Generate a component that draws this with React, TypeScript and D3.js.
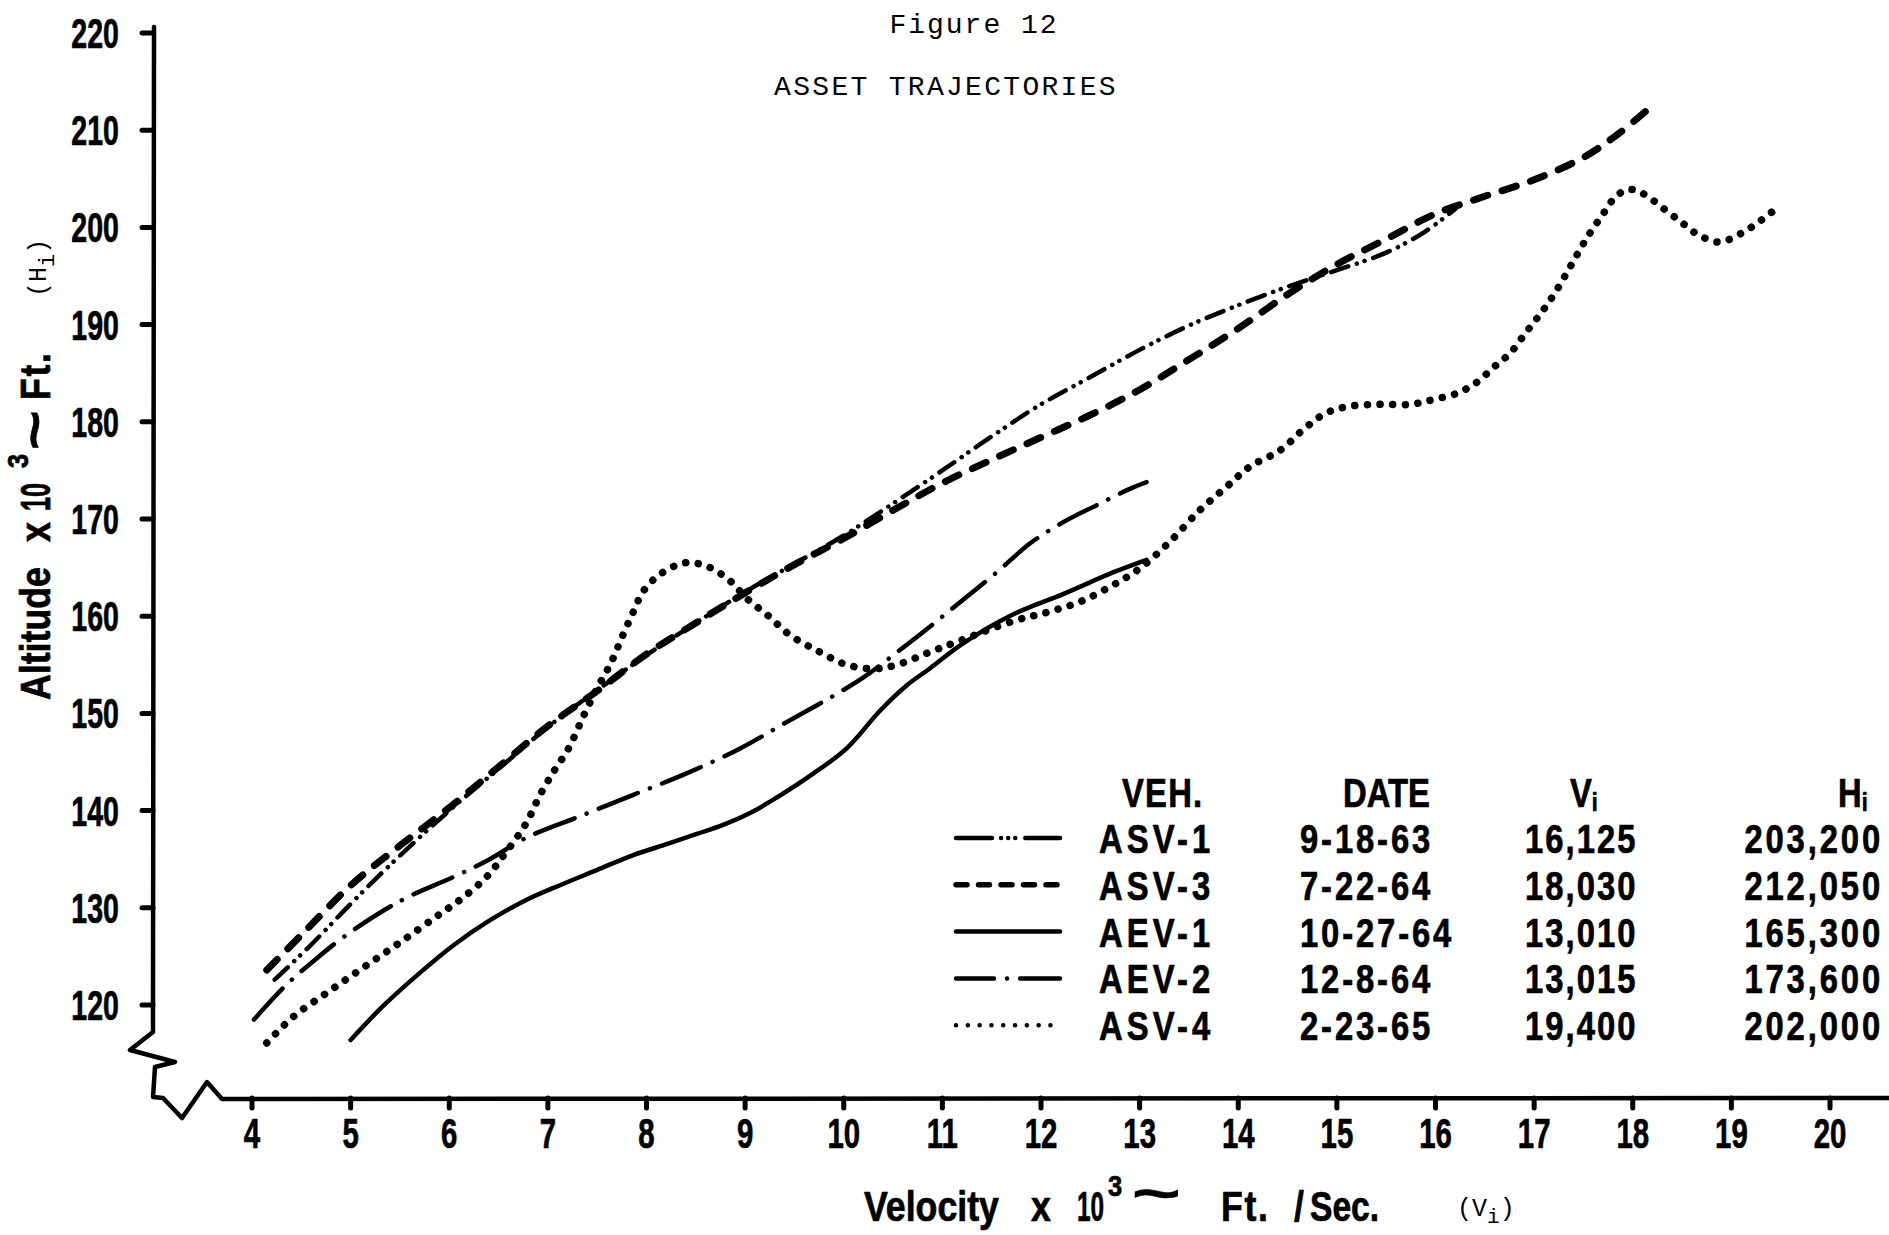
import React, { useEffect, useRef } from "react";
import * as d3 from "d3";

// axis ticks (velocity x 10^3 ft/sec, altitude x 10^3 ft)
const velocityTicks = [4, 5, 6, 7, 8, 9, 10, 11, 12, 13, 14, 15, 16, 17, 18, 19, 20];
const altitudeTicks = [120, 130, 140, 150, 160, 170, 180, 190, 200, 210, 220];

// trajectories, [velocity, altitude]
const asv1: [number, number][] = [
    [4.23, 122.6], [4.6, 126.2], [5.0, 130.4], [5.4, 134.4], [6.0, 140.0], [6.5, 144.3],
    [7.0, 148.6], [7.5, 152.4], [8.0, 156.0], [8.5, 159.3], [9.0, 162.5], [9.5, 165.4],
    [10.0, 168.3], [10.5, 171.6], [11.0, 175.0], [11.5, 178.5], [12.0, 181.8], [12.5, 184.6],
    [13.0, 187.4], [13.5, 189.9], [14.0, 192.0], [14.5, 193.9], [15.0, 195.6], [15.5, 197.4],
    [15.9, 199.6], [16.2, 201.9],
];
const asv3: [number, number][] = [
    [4.15, 123.6], [4.5, 127.2], [5.0, 132.3], [5.5, 136.4], [6.0, 140.3], [6.5, 144.5],
    [7.0, 148.7], [7.5, 152.3], [8.0, 156.1], [8.5, 159.3], [9.0, 162.4], [9.5, 165.3],
    [10.0, 168.0], [10.5, 170.9], [11.0, 173.7], [11.5, 176.1], [12.0, 178.4], [12.5, 180.7],
    [13.0, 183.3], [13.5, 186.4], [14.0, 189.6], [14.5, 193.1], [15.0, 196.2], [15.5, 198.8],
    [16.0, 201.4], [16.5, 203.2], [17.0, 204.9], [17.5, 207.2], [17.85, 209.6], [18.15, 212.1],
];
const aev1: [number, number][] = [
    [5.0, 116.4], [5.33, 119.9], [5.69, 123.2], [6.05, 126.2], [6.41, 128.7], [6.78, 130.8],
    [7.14, 132.4], [7.5, 133.9], [7.86, 135.4], [8.22, 136.6], [8.51, 137.6], [8.77, 138.5],
    [9.06, 139.8], [9.33, 141.4], [9.69, 143.8], [10.03, 146.4], [10.37, 150.3], [10.64, 152.9],
    [10.87, 154.6], [11.21, 157.2], [11.72, 160.2], [12.23, 162.3], [12.73, 164.5], [13.07, 165.8],
];
const aev2: [number, number][] = [
    [4.02, 118.5], [4.35, 122.1], [4.68, 125.0], [4.93, 127.0], [5.33, 129.7], [5.62, 131.3],
    [6.05, 133.2], [6.41, 135.0], [6.78, 137.2], [7.32, 139.4], [7.86, 141.6], [8.4, 143.8],
    [8.95, 146.4], [9.42, 149.1], [9.86, 151.6], [10.2, 153.7], [10.54, 156.3], [10.87, 158.9],
    [11.21, 161.7], [11.55, 164.5], [11.89, 167.5], [12.23, 169.7], [12.56, 171.4], [12.9, 173.1],
    [13.07, 173.8],
];
const asv4: [number, number][] = [
    [4.15, 116.1], [4.42, 118.8], [4.78, 121.4], [5.15, 124.0], [5.51, 126.5], [5.87, 129.1],
    [6.12, 130.9], [6.38, 133.2], [6.56, 135.5], [6.78, 138.7], [6.92, 141.6], [7.07, 144.2],
    [7.21, 146.4], [7.36, 149.7], [7.5, 152.6], [7.64, 155.2], [7.75, 157.8], [7.86, 160.3],
    [7.97, 162.6], [8.15, 164.4], [8.4, 165.5], [8.62, 165.1], [8.84, 163.7], [9.02, 161.8],
    [9.24, 160.0], [9.45, 158.1], [9.76, 156.3], [10.03, 155.0], [10.3, 154.6], [10.54, 155.0],
    [10.87, 156.3], [11.21, 157.6], [11.72, 159.5], [12.06, 160.4], [12.4, 161.5], [12.73, 163.2],
    [13.0, 164.9], [13.3, 167.6], [13.61, 170.9], [13.88, 173.3], [14.12, 175.4], [14.43, 177.1],
    [14.66, 179.2], [14.89, 180.9], [15.13, 181.6], [15.44, 181.8], [15.75, 181.8], [15.98, 182.3],
    [16.21, 182.9], [16.41, 184.0], [16.6, 185.7], [16.76, 187.1], [16.91, 189.1], [17.07, 191.2],
    [17.22, 193.4], [17.38, 196.2], [17.54, 199.0], [17.7, 201.4], [17.83, 203.2], [17.96, 203.9],
    [18.1, 203.5], [18.33, 201.8], [18.51, 200.4], [18.67, 199.2], [18.88, 198.5], [19.12, 199.5],
    [19.31, 200.8], [19.5, 202.3],
];

// legend table
const vehicles = ["ASV-1", "ASV-3", "AEV-1", "AEV-2", "ASV-4"];
const launchDates = ["9-18-63", "7-22-64", "10-27-64", "12-8-64", "2-23-65"];
const viValues = ["16,125", "18,030", "13,010", "13,015", "19,400"];
const hiValues = ["203,200", "212,050", "165,300", "173,600", "202,000"];

const series: { [k: string]: [number, number][] } = {
    "ASV-1": asv1, "ASV-3": asv3, "AEV-1": aev1, "AEV-2": aev2, "ASV-4": asv4,
};

// line looks: dash pattern on the plot, dash pattern on the legend sample, pen width
const lineStyles: { [k: string]: { dash: string | null; key: string | null; width: number } } = {
    "ASV-1": { dash: "18 9 0.1 8 0.1 9", key: "36 9 0.1 7 0.1 7 0.1 10 44", width: 4.5 },
    "ASV-3": { dash: "15 15", key: "11 11.5", width: 7 },
    "AEV-1": { dash: null, key: null, width: 4.5 },
    "AEV-2": { dash: "42 13 0.1 13", key: "38 13 0.1 13 44", width: 4.5 },
    "ASV-4": { dash: "0.1 12.5", key: "0.1 11.7", width: 7.5 },
};

const W = 1889;
const H = 1235;
const AXIS_X = 153;
const AXIS_Y = 1098;
const BOLD = "'Liberation Sans', Arial, sans-serif";
const MONO = "'Liberation Mono', 'Courier New', monospace";

const App: React.FC = () => {
    const svgRef = useRef<SVGSVGElement | null>(null);

    useEffect(() => {
        if (!svgRef.current) return;
        const svg = d3.select(svgRef.current);
        svg.selectAll("*").remove();
        svg.append("rect").attr("width", W).attr("height", H).attr("fill", "#fff");

        const x = d3.scaleLinear().domain([4, 20]).range([252, 1830]);
        const y = d3.scaleLinear().domain([120, 220]).range([1005, 33]);

        // condensed bold lettering, like the stencil on the plate
        const letter = (g: any, tx: number, ty: number, text: string, size: number, sx: number,
            opts: { anchor?: string; ls?: number; rot?: boolean; font?: string; weight?: string } = {}) => {
            const mono = opts.font === MONO;
            const t = g.append("text")
                .attr("transform", `translate(${tx},${ty})${opts.rot ? " rotate(-90)" : ""} scale(${sx},1)`)
                .attr("font-family", opts.font || BOLD)
                .attr("font-weight", opts.weight || "bold")
                .attr("font-size", size)
                .attr("text-anchor", opts.anchor || "start")
                .attr("fill", "#000");
            if (!mono) t.attr("stroke", "#000").attr("stroke-width", 0.7);
            if (opts.ls) t.attr("letter-spacing", opts.ls);
            t.text(text);
            return t;
        };

        // title
        letter(svg, 974, 33, "Figure 12", 28, 1, { anchor: "middle", font: MONO, weight: "normal", ls: 2 });
        letter(svg, 946, 95, "ASSET TRAJECTORIES", 28, 1, { anchor: "middle", font: MONO, weight: "normal", ls: 2.3 });

        // axes with the broken corner
        const brk = [[0, -66], [-23, -48], [22, -36], [2, -31], [0, -1], [10, 0], [29, 20], [54, -16], [69, 1]];
        const axisPath = d3.path();
        axisPath.moveTo(AXIS_X + 1, 27);
        axisPath.lineTo(AXIS_X, AXIS_Y - 66);
        brk.forEach(([dx, dy]) => axisPath.lineTo(AXIS_X + dx, AXIS_Y + dy));
        axisPath.lineTo(W, AXIS_Y);
        svg.append("path")
            .attr("d", axisPath.toString())
            .attr("fill", "none")
            .attr("stroke", "#000")
            .attr("stroke-width", 4.5)
            .attr("stroke-linejoin", "round")
            .attr("stroke-linecap", "round");

        const yAxis = svg.append("g");
        yAxis.selectAll("line")
            .data(altitudeTicks)
            .join("line")
            .attr("x1", AXIS_X - 11).attr("x2", AXIS_X)
            .attr("y1", (d) => y(d)).attr("y2", (d) => y(d))
            .attr("stroke", "#000").attr("stroke-width", 5).attr("stroke-linecap", "round");
        altitudeTicks.forEach((d) => letter(yAxis, 119, y(d) + 15, String(d), 42, 0.68, { anchor: "end" }));

        const xAxis = svg.append("g");
        xAxis.selectAll("line")
            .data(velocityTicks)
            .join("line")
            .attr("x1", (d) => x(d)).attr("x2", (d) => x(d))
            .attr("y1", AXIS_Y).attr("y2", AXIS_Y + 10)
            .attr("stroke", "#000").attr("stroke-width", 5).attr("stroke-linecap", "round");
        velocityTicks.forEach((d) => letter(xAxis, x(d), 1148, String(d), 42, 0.7, { anchor: "middle" }));

        // axis titles
        const yt = svg.append("g");
        letter(yt, 50, 700, "Altitude", 42, 0.85, { rot: true });
        letter(yt, 50, 542, "x", 42, 0.85, { rot: true });
        letter(yt, 50, 511, "10", 42, 0.6, { rot: true });
        letter(yt, 28, 468, "3", 30, 0.85, { rot: true });
        letter(yt, 52, 450, "~", 52, 1.3, { rot: true });
        letter(yt, 50, 400, "Ft.", 42, 0.85, { rot: true, ls: 2 });
        const hi = letter(yt, 46, 297, "(H", 25, 1, { rot: true, font: MONO, weight: "normal" });
        hi.append("tspan").attr("dy", 8).attr("font-size", 22).text("i");
        hi.append("tspan").attr("dy", -8).text(")");

        const xt = svg.append("g");
        letter(xt, 864, 1221, "Velocity", 42, 0.85);
        letter(xt, 1031, 1221, "x", 42, 0.85);
        letter(xt, 1077, 1221, "10", 42, 0.58);
        letter(xt, 1108, 1196, "3", 30, 0.85);
        letter(xt, 1132, 1211, "~", 52, 1.6);
        letter(xt, 1221, 1221, "Ft.", 42, 0.85, { ls: 2 });
        letter(xt, 1294, 1221, "/", 42, 0.85);
        letter(xt, 1310, 1221, "Sec.", 42, 0.8);
        const vi = letter(xt, 1457, 1216, "(V", 25, 1, { font: MONO, weight: "normal" });
        vi.append("tspan").attr("dy", 7).attr("font-size", 21).text("i");
        vi.append("tspan").attr("dy", -7).text(")");

        // trajectories
        const line = d3.line<[number, number]>()
            .x((d) => x(d[0]))
            .y((d) => y(d[1]))
            .curve(d3.curveCatmullRom.alpha(0.5));

        const plot = svg.append("g");
        vehicles.forEach((v) => {
            const st = lineStyles[v];
            const p = plot.append("path")
                .datum(series[v])
                .attr("fill", "none")
                .attr("stroke", "#000")
                .attr("stroke-width", st.width)
                .attr("stroke-linecap", "round")
                .attr("stroke-linejoin", "round")
                .attr("d", line);
            if (st.dash) p.attr("stroke-dasharray", st.dash);
        });

        // legend table
        const lg = svg.append("g");
        const rowY = (i: number) => 838 + i * 46.8;
        letter(lg, 1122, 807, "VEH.", 40, 0.82, { ls: 1.5 });
        letter(lg, 1343, 807, "DATE", 40, 0.82);
        const vh = letter(lg, 1570, 807, "V", 40, 0.82);
        vh.append("tspan").attr("dy", 4).attr("font-size", 26).text("i");
        const hh = letter(lg, 1838, 807, "H", 40, 0.82);
        hh.append("tspan").attr("dy", 4).attr("font-size", 26).text("i");

        vehicles.forEach((v, i) => {
            const st = lineStyles[v];
            const ly = rowY(i);
            const k = lg.append("line")
                .attr("x1", 956).attr("x2", 1060)
                .attr("y1", ly).attr("y2", ly)
                .attr("stroke", "#000")
                .attr("stroke-width", v === "ASV-3" ? 5.5 : 4.5)
                .attr("stroke-linecap", "round");
            if (st.key) k.attr("stroke-dasharray", st.key);
            letter(lg, 1099, ly + 15, v, 40, 0.82, { ls: 5 });
            letter(lg, 1300, ly + 15, launchDates[i], 40, 0.82, { ls: 3.5 });
            letter(lg, 1525, ly + 15, viValues[i], 40, 0.82, { ls: 2.5 });
            letter(lg, 1883, ly + 15, hiValues[i], 40, 0.82, { anchor: "end", ls: 3.5 });
        });
    }, []);

    return (
        <svg
            ref={svgRef}
            width={W}
            height={H}
            style={{ position: "absolute", left: 0, top: 0, background: "#fff" }}
        ></svg>
    );
};

export default App;
